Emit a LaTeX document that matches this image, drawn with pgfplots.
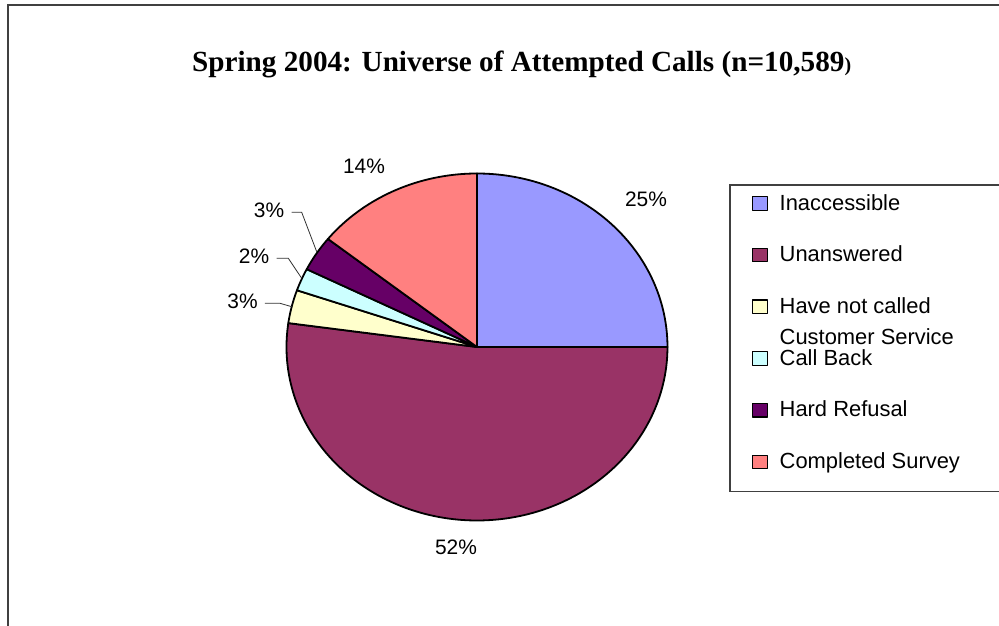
\documentclass[border=0pt]{standalone}
\usepackage{pgfplots}
\pgfplotsset{compat=1.18}
\usepackage{fontspec}
\setmainfont{Liberation Sans}
\newfontfamily\titlefont{Liberation Serif}
\definecolor{cInacc}{HTML}{9999FF}
\definecolor{cUnans}{HTML}{993366}
\definecolor{cHave}{HTML}{FFFFCC}
\definecolor{cCall}{HTML}{CCFFFF}
\definecolor{cHard}{HTML}{660066}
\definecolor{cComp}{HTML}{FF8080}
\definecolor{frame}{HTML}{404040}
% pie geometry (axis units = bp)
\def\cx{477}\def\cy{279}\def\rx{190.5}\def\ry{173.5}
% data: share of attempted calls, percent
\def\vInacc{25.0}
\def\vUnans{52.2}
\def\vHave{3.1}
\def\vCall{2.1}
\def\vHard{3.3}
\def\vComp{14.3}
\newcommand\twoline{\vtop{\baselineskip=30.7bp\hbox{Have not called}\hbox{Customer Service}}}
\begin{document}
\begin{tikzpicture}
\clip (0,0) rectangle (999bp,626bp);
\pgfmathsetmacro\aA{90}
\pgfmathsetmacro\aB{\aA-3.6*\vInacc}
\pgfmathsetmacro\aC{\aB-3.6*\vUnans}
\pgfmathsetmacro\aD{\aC-3.6*\vHave}
\pgfmathsetmacro\aE{\aD-3.6*\vCall}
\pgfmathsetmacro\aF{\aE-3.6*\vHard}
\pgfmathsetmacro\aG{\aF-3.6*\vComp}
\begin{axis}[at={(0,0)}, anchor=south west, scale only axis,
  width=999bp, height=626bp, xmin=0, xmax=999, ymin=0, ymax=626,
  hide axis, clip=false,
  legend image code/.code={\draw[#1, line width=1.2bp] (0bp,-5.5bp) rectangle (15bp,8bp); \path (26.3bp,0bp);},
  legend style={at={(axis cs:751.7,432)}, anchor=north west, draw=none, fill=none,
    inner sep=0pt, row sep=30.7bp, column sep=0pt,
    font=\fontsize{22}{26}\selectfont,
    nodes={inner sep=0pt, text height=16bp, text depth=5bp}},
  legend cell align=left,
]
\addplot[fill=cInacc, draw=black, line width=1.8bp, line join=round, domain=\aB:\aA, samples=80, variable=\t]
  ({\cx+\rx*cos(\t)},{\cy+\ry*sin(\t)}) -- (axis cs:\cx,\cy) -- cycle;
\addlegendentry{Inaccessible}
\addplot[fill=cUnans, draw=black, line width=1.8bp, line join=round, domain=\aC:\aB, samples=150, variable=\t]
  ({\cx+\rx*cos(\t)},{\cy+\ry*sin(\t)}) -- (axis cs:\cx,\cy) -- cycle;
\addlegendentry{Unanswered}
\addplot[fill=cHave, draw=black, line width=1.8bp, line join=round, domain=\aD:\aC, samples=15, variable=\t]
  ({\cx+\rx*cos(\t)},{\cy+\ry*sin(\t)}) -- (axis cs:\cx,\cy) -- cycle;
\addlegendentry{\twoline}
\addplot[fill=cCall, draw=black, line width=1.8bp, line join=round, domain=\aE:\aD, samples=15, variable=\t]
  ({\cx+\rx*cos(\t)},{\cy+\ry*sin(\t)}) -- (axis cs:\cx,\cy) -- cycle;
\addlegendentry{Call Back}
\addplot[fill=cHard, draw=black, line width=1.8bp, line join=round, domain=\aF:\aE, samples=15, variable=\t]
  ({\cx+\rx*cos(\t)},{\cy+\ry*sin(\t)}) -- (axis cs:\cx,\cy) -- cycle;
\addlegendentry{Hard Refusal}
\addplot[fill=cComp, draw=black, line width=1.8bp, line join=round, domain=\aG:\aF, samples=50, variable=\t]
  ({\cx+\rx*cos(\t)},{\cy+\ry*sin(\t)}) -- (axis cs:\cx,\cy) -- cycle;
\addlegendentry{Completed Survey}
% frame and legend box
\draw[frame, line width=2bp] (axis cs:8,-10) -- (axis cs:8,621) -- (axis cs:1010,621);
\draw[frame, line width=1.2bp] (axis cs:730,441) rectangle (axis cs:1010,134.3);
% title
\node[anchor=base west, inner sep=0pt, font=\titlefont\bfseries\fontsize{29.3}{34}\selectfont]
  at (axis cs:192,554) {Spring 2004: Universe of Attempted Calls (n=10,589{\fontsize{20}{24}\selectfont)}};
% data labels
\begin{scope}[every node/.style={anchor=base, inner sep=0pt, font=\fontsize{21}{25}\selectfont}]
\node at (axis cs:646,419.3) {25\%};
\node at (axis cs:364,452.7) {14\%};
\node at (axis cs:456,71) {52\%};
\node at (axis cs:269,408.7) {3\%};
\node at (axis cs:254,362.7) {2\%};
\node at (axis cs:242.5,317.7) {3\%};
\end{scope}
\draw[black!80, line width=0.8bp] (axis cs:291.7,413.7) -- (axis cs:301.7,413.7) -- (axis cs:316.7,374.3);
\draw[black!80, line width=0.8bp] (axis cs:276.7,367.7) -- (axis cs:288.3,367.7) -- (axis cs:301.7,347.7);
\draw[black!80, line width=0.8bp] (axis cs:265,322.7) -- (axis cs:280,322.7) -- (axis cs:291.7,319.3);
\end{axis}
\end{tikzpicture}
\end{document}
